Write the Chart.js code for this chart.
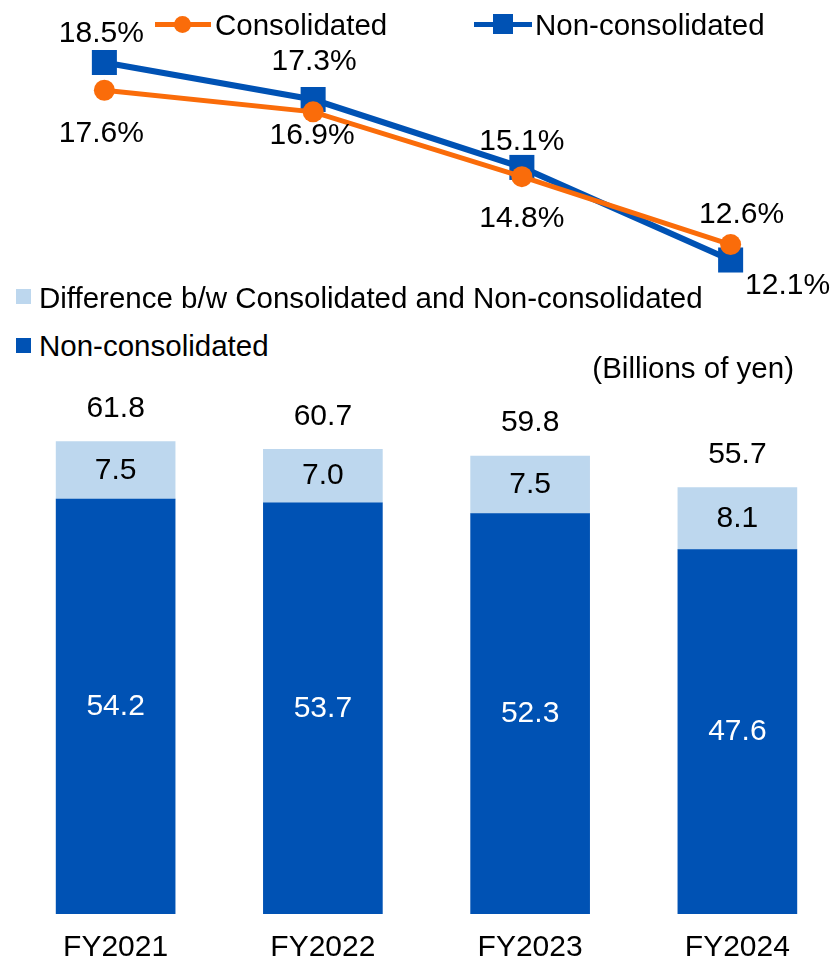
<!DOCTYPE html>
<html>
<head>
<meta charset="utf-8">
<script src="https://cdn.jsdelivr.net/npm/chart.js@4"></script>
<style>
  html, body { margin: 0; padding: 0; background: #fff; }
  body { width: 833px; height: 962px; overflow: hidden; position: relative; font-family: 'Liberation Sans', Arial, sans-serif; color: #000; }
  canvas { position: absolute; left: 0; }
  #rateChart { top: 0; }
  #amountChart { top: 380px; }
  .txt { position: absolute; font-size: 29.5px; line-height: 29.5px; white-space: nowrap; }
  .swatch { position: absolute; width: 15px; height: 15px; }
  .key-line { position: absolute; height: 5px; }
  .key-dot { position: absolute; width: 17px; height: 17px; border-radius: 50%; }
  .key-sq { position: absolute; width: 20px; height: 20px; }
</style>
</head>
<body>
<canvas id="rateChart" width="835" height="300"></canvas>
<canvas id="amountChart" width="841" height="602"></canvas>

<div class="key-line" style="left:155px;top:22px;width:56px;background:#fa6c0a"></div>
<div class="key-dot" style="left:174px;top:16px;background:#fa6c0a"></div>
<div class="txt" style="left:215px;top:10px">Consolidated</div>
<div class="key-line" style="left:474px;top:22px;width:58px;background:#0052b4"></div>
<div class="key-sq" style="left:493px;top:14px;background:#0052b4"></div>
<div class="txt" style="left:535px;top:10px">Non-consolidated</div>

<div class="swatch" style="left:16px;top:289px;background:#bdd7ee"></div>
<div class="txt" style="left:39px;top:283px">Difference b/w Consolidated and Non-consolidated</div>
<div class="swatch" style="left:16px;top:338px;background:#0052b4"></div>
<div class="txt" style="left:39px;top:331px">Non-consolidated</div>
<div class="txt" style="right:39px;top:353px">(Billions of yen)</div>

<script>
const years = ['FY2021', 'FY2022', 'FY2023', 'FY2024'];

// ratio (%) series
const consolidatedRate = [17.6, 16.9, 14.8, 12.6];
const nonConsolidatedRate = [18.5, 17.3, 15.1, 12.1];

// amounts, billions of yen
const nonConsolidatedAmt = [54.2, 53.7, 52.3, 47.6];
const differenceAmt = [7.5, 7.0, 7.5, 8.1];
const consolidatedTotal = [61.8, 60.7, 59.8, 55.7];

const ORANGE = '#fa6c0a';
const BLUE = '#0052b4';
const LIGHT = '#bdd7ee';
const FONT = "'Liberation Sans', Arial, sans-serif";

// where each percentage label sits relative to its point
const rateLabelShift = {
  0: [[-3, 43], [-1, 24], [0, 42], [11, -30]],
  1: [[-3, -29], [1, -38], [0, -26], [57, 26]]
};

const rateLabels = {
  id: 'rateLabels',
  afterDatasetsDraw(chart) {
    const ctx = chart.ctx;
    ctx.save();
    ctx.font = `30px ${FONT}`;
    ctx.fillStyle = '#000';
    ctx.textAlign = 'center';
    ctx.textBaseline = 'middle';
    chart.data.datasets.forEach((ds, di) => {
      chart.getDatasetMeta(di).data.forEach((pt, i) => {
        const [dx, dy] = rateLabelShift[di][i];
        ctx.fillText(ds.data[i].toFixed(1) + '%', pt.x + dx, pt.y + dy);
      });
    });
    ctx.restore();
  }
};

new Chart(document.getElementById('rateChart'), {
  type: 'line',
  data: {
    labels: years,
    datasets: [
      {
        label: 'Consolidated',
        data: consolidatedRate,
        borderColor: ORANGE,
        backgroundColor: ORANGE,
        borderWidth: 5,
        pointStyle: 'circle',
        pointRadius: 10.5,
        pointHoverRadius: 10.5,
        pointBorderWidth: 0,
        clip: false
      },
      {
        label: 'Non-consolidated',
        data: nonConsolidatedRate,
        borderColor: BLUE,
        backgroundColor: BLUE,
        borderWidth: 6,
        pointStyle: 'rect',
        pointRadius: 17.7,
        pointHoverRadius: 17.7,
        pointBorderWidth: 0,
        clip: false
      }
    ]
  },
  options: {
    responsive: false,
    animation: false,
    layout: { padding: 0, autoPadding: false },
    plugins: { legend: { display: false }, tooltip: { enabled: false } },
    scales: {
      x: { display: false, offset: true },
      y: { display: false, min: 10.804, max: 20.525 }
    }
  },
  plugins: [rateLabels]
});

const amountLabels = {
  id: 'amountLabels',
  afterDatasetsDraw(chart) {
    const ctx = chart.ctx;
    const base = chart.getDatasetMeta(0).data;
    const top = chart.getDatasetMeta(1).data;
    ctx.save();
    ctx.font = `30px ${FONT}`;
    ctx.textAlign = 'center';
    ctx.textBaseline = 'middle';
    base.forEach((bar, i) => {
      ctx.fillStyle = '#fff';
      ctx.fillText(nonConsolidatedAmt[i].toFixed(1), bar.x, (bar.y + bar.base) / 2);
      const t = top[i];
      ctx.fillStyle = '#000';
      ctx.fillText(differenceAmt[i].toFixed(1), t.x, (t.y + t.base) / 2);
      ctx.fillText(consolidatedTotal[i].toFixed(1), t.x, t.y - 33);
    });
    ctx.restore();
  }
};

new Chart(document.getElementById('amountChart'), {
  type: 'bar',
  data: {
    labels: years,
    datasets: [
      { label: 'Non-consolidated', data: nonConsolidatedAmt, backgroundColor: BLUE, barThickness: 119 },
      { label: 'Difference b/w Consolidated and Non-consolidated', data: differenceAmt, backgroundColor: LIGHT, barThickness: 119 }
    ]
  },
  options: {
    responsive: false,
    animation: false,
    layout: { padding: { left: 12, right: 0, top: 0, bottom: 0 } },
    plugins: { legend: { display: false }, tooltip: { enabled: false } },
    scales: {
      x: {
        stacked: true,
        grid: { display: false, drawTicks: false },
        border: { display: false },
        ticks: { color: '#000', padding: 16, font: { family: FONT, size: 30 } }
      },
      y: { stacked: true, display: false, min: 0, max: 69.75 }
    }
  },
  plugins: [amountLabels]
});
</script>
</body>
</html>
